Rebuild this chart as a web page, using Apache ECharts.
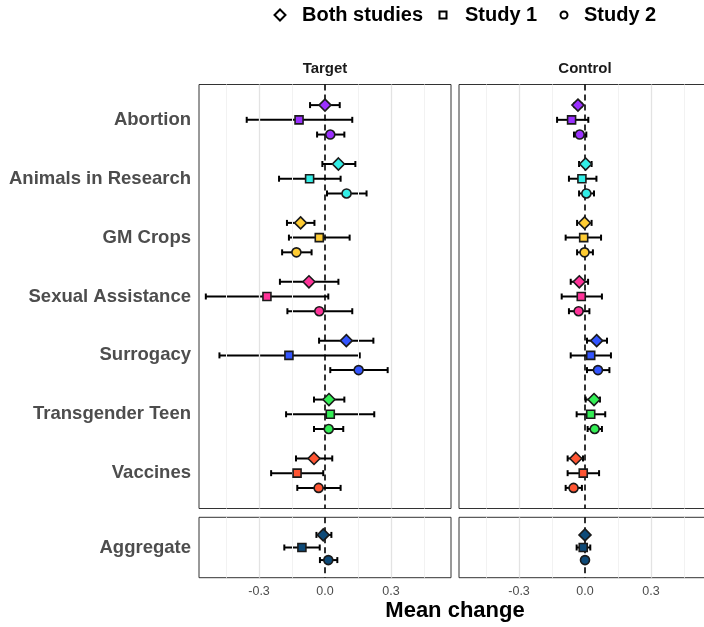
<!DOCTYPE html>
<html><head><meta charset="utf-8">
<script src="https://cdn.jsdelivr.net/npm/echarts@6/dist/echarts.min.js"></script>
<style>html,body{margin:0;padding:0;background:#fff}#c{width:704px;height:627px}</style>
</head><body><div id="c"></div>
<script>
// ---- data ----
const topics = ['Abortion', 'Animals in Research', 'GM Crops', 'Sexual Assistance', 'Surrogacy', 'Transgender Teen', 'Vaccines'];
const aggregateLabel = 'Aggregate';
const studies = ['Both studies', 'Study 1', 'Study 2'];
const panels = ['Target', 'Control'];
const xTicks = [-0.3, 0.0, 0.3];
const xLabel = 'Mean change';
// index 0-6 = topics, index 7 = Aggregate
const targetBothMean = [0.000, 0.061, -0.111, -0.073, 0.097, 0.018, -0.050, -0.008];
const targetBothLo   = [-0.068, -0.012, -0.173, -0.205, -0.027, -0.050, -0.132, -0.039];
const targetBothHi   = [0.067, 0.138, -0.048, 0.061, 0.220, 0.088, 0.033, 0.029];
const targetS1Mean   = [-0.118, -0.070, -0.026, -0.264, -0.164, 0.024, -0.127, -0.105];
const targetS1Lo     = [-0.356, -0.209, -0.164, -0.542, -0.480, -0.177, -0.245, -0.185];
const targetS1Hi     = [0.124, 0.071, 0.112, 0.015, 0.158, 0.224, -0.008, -0.024];
const targetS2Mean   = [0.024, 0.098, -0.130, -0.026, 0.153, 0.017, -0.029, 0.015];
const targetS2Lo     = [-0.036, 0.009, -0.195, -0.171, 0.024, -0.050, -0.126, -0.023];
const targetS2Hi     = [0.088, 0.189, -0.061, 0.124, 0.285, 0.083, 0.071, 0.056];
const controlBothMean = [-0.032, 0.003, -0.002, -0.026, 0.053, 0.041, -0.042, 0.000];
const controlBothLo   = [-0.048, -0.027, -0.036, -0.065, 0.009, 0.003, -0.079, -0.012];
const controlBothHi   = [-0.016, 0.030, 0.030, 0.014, 0.100, 0.068, -0.009, 0.012];
const controlS1Mean   = [-0.061, -0.014, -0.006, -0.017, 0.026, 0.026, -0.008, -0.008];
const controlS1Lo     = [-0.127, -0.073, -0.088, -0.106, -0.065, -0.038, -0.079, -0.038];
const controlS1Hi     = [0.015, 0.052, 0.073, 0.077, 0.118, 0.092, 0.064, 0.024];
const controlS2Mean   = [-0.024, 0.006, -0.002, -0.029, 0.059, 0.044, -0.052, 0.000];
const controlS2Lo     = [-0.050, -0.027, -0.036, -0.073, 0.009, 0.012, -0.088, -0.008];
const controlS2Hi     = [0.006, 0.041, 0.036, 0.020, 0.111, 0.077, -0.014, 0.008];

// ---- style ----
const topicColors = ['#9B30FF', '#33EEE6', '#FFCC33', '#FF3399', '#3355FF', '#33EE55', '#FF5533', '#0E4A78'];
const symbols = ['diamond', 'rect', 'circle'];
const symbolSizes = [12, 8, 9];
const offsets = [-0.25, 0, 0.25];

const panelData = [
  [[targetBothMean, targetBothLo, targetBothHi], [targetS1Mean, targetS1Lo, targetS1Hi], [targetS2Mean, targetS2Lo, targetS2Hi]],
  [[controlBothMean, controlBothLo, controlBothHi], [controlS1Mean, controlS1Lo, controlS1Hi], [controlS2Mean, controlS2Lo, controlS2Hi]]
];

const XMIN = -0.573, XMAX = 0.573;
const grids = [
  {left: 199, top: 84.5, width: 252, height: 424},
  {left: 459, top: 84.5, width: 252, height: 424},
  {left: 199, top: 517.3, width: 252, height: 60.4},
  {left: 459, top: 517.3, width: 252, height: 60.4}
].map(g => Object.assign(g, {show: true, borderColor: '#333333', borderWidth: 1, backgroundColor: '#fff',
  containLabel: false, outerBoundsMode: 'none'}));

const xAxes = grids.map((g, i) => ({
  gridIndex: i, type: 'value', min: XMIN, max: XMAX,
  axisLine: {show: false}, axisTick: {show: false}, splitLine: {show: false},
  axisLabel: {show: i >= 2, customValues: xTicks, formatter: v => v.toFixed(1),
    color: '#4D4D4D', fontSize: 12.5, fontFamily: 'Liberation Sans, Arial, sans-serif', margin: 7}
}));
const yAxes = grids.map((g, i) => {
  const upper = i < 2;
  return {
    gridIndex: i, type: 'value', inverse: true, min: 0.4, max: upper ? 7.6 : 1.6,
    axisLine: {show: false}, axisTick: {show: false}, splitLine: {show: false},
    axisLabel: {show: i === 0 || i === 2,
      customValues: upper ? topics.map((t, k) => k + 1) : [1],
      formatter: v => upper ? topics[Math.round(v) - 1] : aggregateLabel,
      color: '#4D4D4D', fontSize: 18.5, fontWeight: 'bold', fontFamily: 'Liberation Sans, Arial, sans-serif', margin: 8}
  };
});

const series = [];
// gridlines + zero line per grid
for (let g = 0; g < 4; g++) {
  const minor = {color: '#F2F2F2', width: 1, type: 'solid'};
  const major = {color: '#E3E3E3', width: 1.3, type: 'solid'};
  series.push({
    type: 'scatter', xAxisIndex: g, yAxisIndex: g, data: [], z: 1, silent: true,
    markLine: {silent: true, symbol: 'none', label: {show: false}, animation: false,
      data: [
        {xAxis: -0.45, lineStyle: minor}, {xAxis: -0.15, lineStyle: minor},
        {xAxis: 0.15, lineStyle: minor}, {xAxis: 0.45, lineStyle: minor},
        {xAxis: -0.3, lineStyle: major}, {xAxis: 0.3, lineStyle: major},
        {xAxis: 0, lineStyle: {color: '#000', width: 1.6, type: [6, 4]}}
      ]}
  });
}

function errorBarRender(params, api) {
  const y = api.value(2);
  const a = api.coord([api.value(0), y]);
  const b = api.coord([api.value(1), y]);
  const h = 3;
  const st = {stroke: '#000', lineWidth: 2};
  return {type: 'group', children: [
    {type: 'line', shape: {x1: a[0], y1: a[1], x2: b[0], y2: b[1]}, style: st},
    {type: 'line', shape: {x1: a[0], y1: a[1] - h, x2: a[0], y2: a[1] + h}, style: st},
    {type: 'line', shape: {x1: b[0], y1: b[1] - h, x2: b[0], y2: b[1] + h}, style: st}
  ]};
}

for (let p = 0; p < 2; p++) {
  for (let part = 0; part < 2; part++) {
    const g = part === 0 ? p : p + 2;
    const idx = part === 0 ? [0, 1, 2, 3, 4, 5, 6] : [7];
    for (let s = 0; s < 3; s++) {
      const [mean, lo, hi] = panelData[p][s];
      const pos = k => (part === 0 ? k + 1 : 1) + offsets[s];
      series.push({
        type: 'custom', name: 'eb' + s, xAxisIndex: g, yAxisIndex: g, z: 3, silent: true,
        renderItem: errorBarRender, encode: {x: [0, 1], y: 2},
        data: idx.map(k => [lo[k], hi[k], pos(k)])
      });
      series.push({
        type: 'scatter', name: studies[s], xAxisIndex: g, yAxisIndex: g, z: 5,
        symbol: symbols[s], symbolSize: symbolSizes[s],
        itemStyle: {borderColor: '#1a1a1a', borderWidth: 1.6, opacity: 1},
        data: idx.map(k => ({value: [mean[k], pos(k)], itemStyle: {color: topicColors[k]}}))
      });
    }
  }
}

const legendFont = {fontSize: 20, fontWeight: 'bold', color: '#000', fontFamily: 'Liberation Sans, Arial, sans-serif'};
const hollow = {color: '#fff', borderColor: '#000', borderWidth: 2};
const legends = [
  {left: 273.5, w: 11, pad: 11.5},
  {left: 438.5, w: 7, pad: 13.5},
  {left: 559.5, w: 7, pad: 11.5}
].map((l, s) => ({
  left: l.left, top: 5, itemWidth: l.w, itemHeight: l.w, padding: 0,
  selectedMode: false,
  data: [{name: studies[s], icon: symbols[s], itemStyle: hollow}],
  textStyle: Object.assign({padding: [0, 0, 0, l.pad]}, legendFont)
}));

const chart = echarts.init(document.getElementById('c'), null, {renderer: 'canvas'});
chart.setOption({
  animation: false,
  backgroundColor: '#fff',
  grid: grids, xAxis: xAxes, yAxis: yAxes, series: series, legend: legends,
  graphic: [
    {type: 'text', x: 325, y: 69, style: {text: panels[0], textAlign: 'center', textVerticalAlign: 'middle', font: 'bold 15px "Liberation Sans", Arial, sans-serif', fill: '#1a1a1a'}},
    {type: 'text', x: 585, y: 69, style: {text: panels[1], textAlign: 'center', textVerticalAlign: 'middle', font: 'bold 15px "Liberation Sans", Arial, sans-serif', fill: '#1a1a1a'}},
    {type: 'text', x: 455, y: 611, style: {text: xLabel, textAlign: 'center', textVerticalAlign: 'middle', font: 'bold 22px "Liberation Sans", Arial, sans-serif', fill: '#000'}}
  ]
});
</script></body></html>
